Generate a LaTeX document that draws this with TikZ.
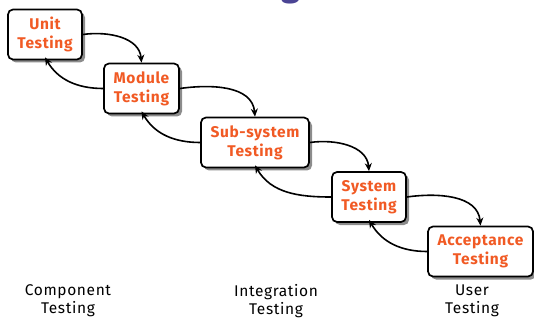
\documentclass[tikz,border=0pt]{standalone}
\usepackage{fontspec}
\setmainfont{Fira Sans}
\usetikzlibrary{shadows,arrows.meta}
\definecolor{boxtext}{HTML}{F15A24}
\definecolor{titlepurple}{HTML}{4B4494}
\begin{document}
\begin{tikzpicture}[x=1pt,y=-1pt,
  stage/.style={draw=black, line width=1.7pt, rounded corners=5pt, fill=white, align=center,
    text=boxtext, font=\bfseries\fontsize{15.5}{19}\selectfont\addfontfeatures{LetterSpace=4}, minimum height=50pt, inner sep=0pt,
    drop shadow={shadow xshift=3pt, shadow yshift=-3pt, fill=black!45, opacity=1}},
  level/.style={align=center, font=\fontsize{15.5}{18}\selectfont\addfontfeatures{LetterSpace=4}, text=black},
  flow/.style={-{Stealth[length=8pt,width=7pt]}, line width=1.6pt}
]
\useasboundingbox (0,0) rectangle (534,320);
% title fragment
\node[text=titlepurple, font=\bfseries\fontsize{34}{34}\selectfont, anchor=base, inner sep=0pt] (title) at (291,-3.5) {g};

\node[stage, minimum width=74pt] (unit) at (45,34.5) {Unit\\Testing};
\node[stage, minimum width=75pt] (module) at (141.5,88.5) {Module\\Testing};
\node[stage, minimum width=108pt] (sub) at (255,142.5) {Sub-system\\Testing};
\node[stage, minimum width=74pt] (system) at (369,197) {System\\Testing};
\node[stage, minimum width=105pt] (accept) at (480.5,251.5) {Acceptance\\Testing};

% forward arrows
\draw[flow] (unit.east) to[out=8,in=95] (module.north);
\draw[flow] (module.east) to[out=8,in=95] (sub.north);
\draw[flow] (sub.east) to[out=8,in=95] (system.north);
\draw[flow] (system.east) to[out=8,in=95] (accept.north);
% backward arrows
\draw[flow] (module.west) to[out=180,in=-60] ([yshift=3pt]unit.south);
\draw[flow] (sub.west) to[out=180,in=-60] ([yshift=3pt]module.south);
\draw[flow] (system.west) to[out=180,in=-60] ([yshift=3pt]sub.south);
\draw[flow] (accept.west) to[out=180,in=-60] ([yshift=3pt]system.south);

\node[level] (comp) at (68,301) {Component\\Testing};
\node[level] (integ) at (276,301) {Integration\\Testing};
\node[level] (user) at (472,301) {User\\Testing};
\end{tikzpicture}
\end{document}
